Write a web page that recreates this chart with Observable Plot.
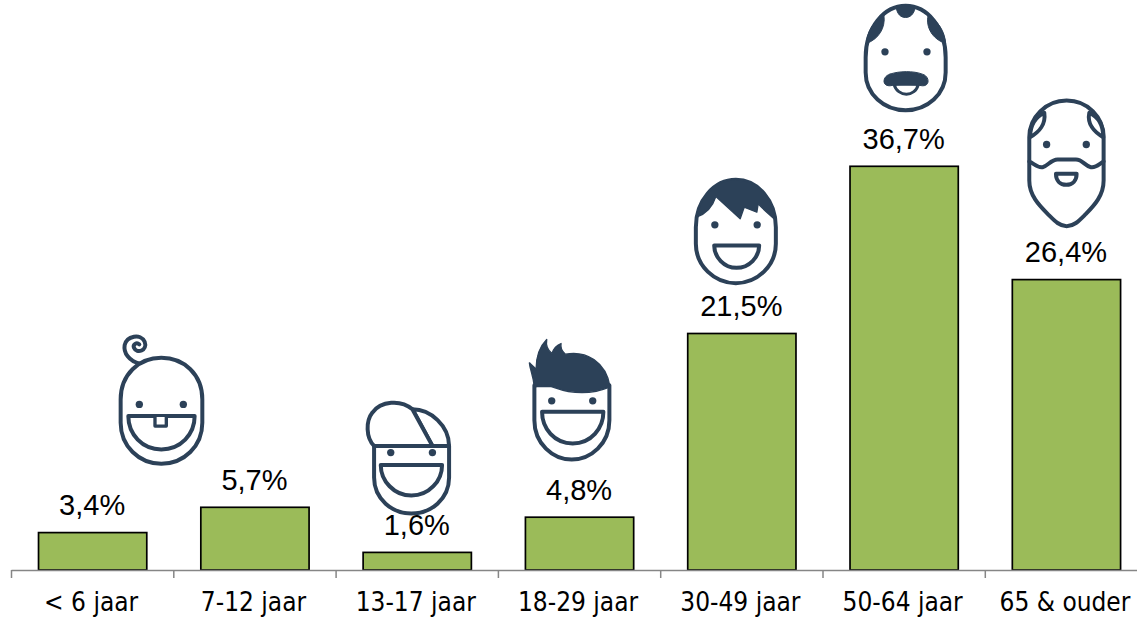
<!DOCTYPE html>
<html>
<head>
<meta charset="utf-8">
<script src="https://cdn.jsdelivr.net/npm/d3@7"></script>
<script src="https://cdn.jsdelivr.net/npm/@observablehq/plot@0.6"></script>
<style>
html,body{margin:0;padding:0;background:#fff}
svg{display:block}
</style>
</head>
<body>
<div id="chart"></div>
<script>
const ages = ["< 6 jaar","7-12 jaar","13-17 jaar","18-29 jaar","30-49 jaar","50-64 jaar","65 & ouder"];
const shares = [3.4,5.7,1.6,4.8,21.5,36.7,26.4];

const INK = "#2c4158";
const BAR = "#9bbb59";
const AXIS = "#868686";
const PX_PER_UNIT = 11;
const BAND = 162.3;

const eye = (x,y) => `<circle cx="${x}" cy="${y}" r="11" fill="${INK}" stroke="none"/>`;
const wrap = (w,h,inner) => `<svg xmlns="http://www.w3.org/2000/svg" viewBox="0 0 ${w} ${h}" width="${w}" height="${h}"><g fill="#fff" stroke="${INK}" stroke-width="12" stroke-linejoin="round" stroke-linecap="round">${inner}</g></svg>`;

const faces = [
 {age:"< 6 jaar", w:360,h:450,dx:67.5,dy:-137, svg:wrap(360,450,`
  <path fill="none" d="M118 128C85 120 68 95 72 72C78 45 120 35 132 62C142 88 108 100 100 80C96 70 108 62 116 70"/>
  <path d="M60 235C60 160 115 110 182 110C250 110 305 160 305 235L305 305C305 375 250 428 182 428C115 428 60 375 60 305Z"/>
  ${eye(116,250)}${eye(248,250)}
  <path d="M83 285L282 285C282 340 240 385 182 385C125 385 83 340 83 285Z"/>
  <path d="M163 288L163 315L197 315L197 288" stroke-width="10"/>`)},
 {age:"13-17 jaar", w:330,h:390,dx:-12,dy:-97, svg:wrap(330,390,`
  <path d="M70 165L70 260C70 325 125 368 182 368C240 368 295 325 295 260L295 165Z"/>
  <path d="M185 55C240 55 295 105 295 165L245 165Z"/>
  <path d="M70 165C45 140 45 90 65 65C90 30 150 25 185 55L245 165Z"/>
  ${eye(120,185)}${eye(245,185)}
  <path d="M90 222L274 222C274 270 235 314 182 314C130 314 90 270 90 222Z"/>`)},
 {age:"18-29 jaar", w:330,h:405,dx:-9,dy:-120, svg:wrap(330,405,`
  <path d="M55 165L55 270C55 340 110 388 167 388C225 388 280 340 280 270L280 165Z"/>
  <path fill="${INK}" stroke-width="4" d="M40 98C48 105 55 110 60 118C60 80 70 50 92 28C88 50 98 62 108 70C112 55 122 45 135 40C132 55 140 65 148 72C210 60 270 95 282 170C230 192 170 192 115 172C95 162 75 158 55 172C52 135 42 120 40 98Z"/>
  ${eye(107,212)}${eye(230,212)}
  <path d="M78 245L262 245C262 295 225 340 170 340C115 340 78 295 78 245Z"/>`)},
 {age:"30-49 jaar", w:330,h:360,dx:-6.5,dy:-103.5, svg:wrap(330,360,`
  <path d="M45 170C45 90 100 28 165 28C230 28 285 90 285 170L285 220C285 285 230 338 165 338C100 338 45 285 45 220Z"/>
  <path fill="${INK}" stroke-width="4" d="M47 140C60 70 110 28 165 28C225 28 275 75 285 150C270 135 250 120 232 100L228 125L190 110L178 145L105 78C95 110 75 130 47 140Z"/>
  ${eye(102,163)}${eye(229,163)}
  <path d="M100 225L235 225C235 260 205 292 167 292C130 292 100 260 100 225Z"/>`)},
 {age:"50-64 jaar", w:330,h:360,dx:1,dy:-106, svg:wrap(330,360,`
  <path d="M45 170C45 80 100 15 165 15C230 15 285 80 285 170L285 215C285 280 230 328 165 328C100 328 45 280 45 215Z"/>
  <g fill="${INK}" stroke-width="3">
  <path d="M137 22C150 15 180 15 193 22C190 40 178 50 165 50C150 50 140 40 137 22Z"/>
  <path d="M100 45C70 60 50 90 47 128C85 115 105 80 100 45Z"/>
  <path d="M232 45C262 60 282 90 285 128C245 115 225 80 232 45Z"/></g>
  ${eye(103,153)}${eye(229,153)}
  <path stroke-width="9" d="M130 250C140 290 195 290 203 250Z"/>
  <path fill="${INK}" stroke-width="3" d="M118 220C145 210 190 210 215 220C236 225 240 256 215 255C190 250 140 250 118 255C92 256 96 225 118 220Z"/>`)},
 {age:"65 & ouder", w:330,h:420,dx:-1,dy:-114.6, svg:wrap(330,420,`
  <path d="M55 125C55 65 105 15 167 15C230 15 278 65 278 125L278 255C278 300 250 330 225 355C205 375 190 392 167 392C145 392 130 375 110 355C85 330 55 300 55 255Z"/>
  <path d="M100 52C70 65 58 90 57 125C85 110 105 85 100 52Z"/>
  <path d="M235 52C265 65 277 90 277 125C250 110 228 85 235 52Z"/>
  <path fill="none" d="M55 198C70 205 80 218 95 215C110 212 120 192 140 192L195 192C215 192 222 212 240 215C255 218 265 205 278 198"/>
  ${eye(107,147)}${eye(226,147)}
  <path d="M135 235L197 235C197 255 185 268 166 268C147 268 135 255 135 235Z"/>`)}
];

const rows = ages.map((age,i)=>({age, value:shares[i]}));
const fmt = v => v.toFixed(1).replace(".",",") + "%";

const plot = Plot.plot({
  width:1137, height:618,
  marginTop:0, marginBottom:48, marginLeft:11.5, marginRight:0,
  x:{domain:ages, range:[11.5,1147.6], paddingInner:0.333, paddingOuter:0.1665, align:0.5, round:false, label:null},
  y:{domain:[0,570/PX_PER_UNIT], range:[570,0], axis:null},
  style:{background:"#fff", overflow:"hidden"},
  marks:[
    Plot.ruleX(ages,{x:d=>d, y1:0, y2:-8/PX_PER_UNIT, dx:-BAND/2-0.5, stroke:AXIS, strokeWidth:1.5}),
    Plot.barY(rows,{x:"age", y:"value", fill:BAR, stroke:"#000", strokeWidth:1.7}),
    Plot.ruleY([0],{stroke:AXIS, strokeWidth:1.7}),
    Plot.axisX({tickSize:0, tickPadding:22, dx:-2, fontSize:26, fontFamily:"'DejaVu Sans Condensed'", fill:"#000", label:null}),
    Plot.text(rows,{x:"age", y:"value", text:d=>fmt(d.value), dx:-1, dy:-27, fontSize:29, fontFamily:"'Liberation Sans'", fill:"#000", textAnchor:"middle"}),
    ...faces.map(f=>Plot.image([f],{
      x:"age", y:d=>shares[ages.indexOf(d.age)],
      src:d=>"data:image/svg+xml;charset=utf-8,"+encodeURIComponent(d.svg),
      width:f.w/3, height:f.h/3, dx:f.dx, dy:f.dy
    }))
  ]
});
document.getElementById("chart").append(plot);
</script>
</body>
</html>
